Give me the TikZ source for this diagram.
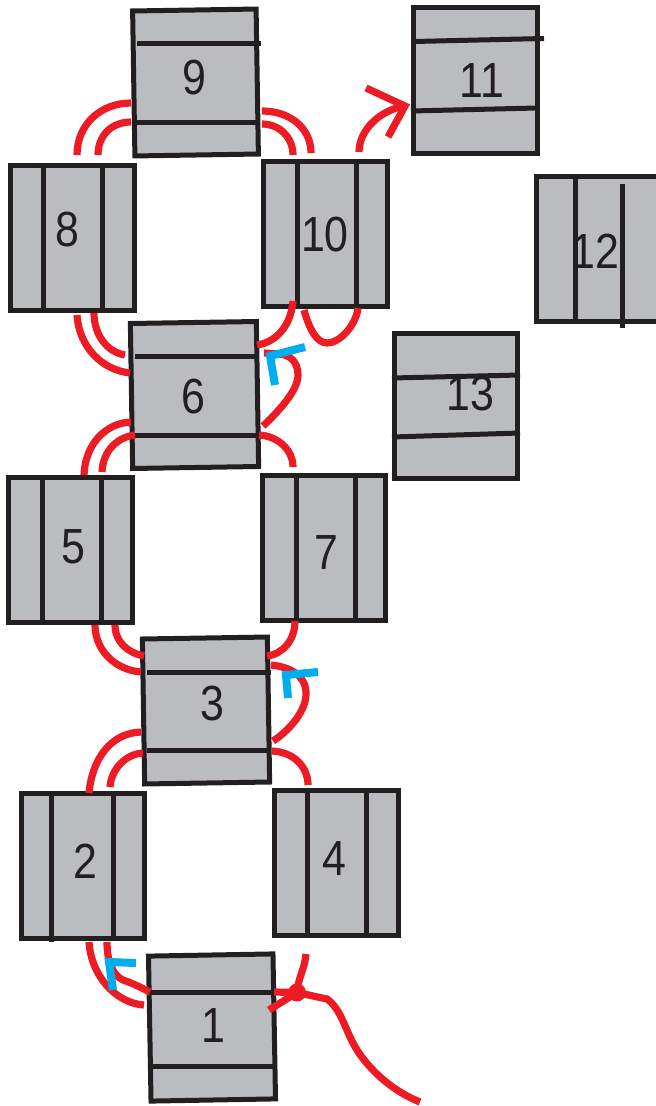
\documentclass[tikz,border=0pt]{standalone}
\usepackage{fontspec}
\setmainfont{Liberation Sans}
\newfontfamily\numfont[FakeStretch=0.87]{Liberation Sans}
\definecolor{boxgrey}{HTML}{BBBCBF}
\definecolor{inkblack}{HTML}{231F20}
\definecolor{wirered}{HTML}{ED1C24}
\definecolor{tagblue}{HTML}{00AEEF}
\tikzset{
  cell/.style={draw=inkblack,fill=boxgrey,line width=3.75pt,inner sep=0pt,outer sep=0pt,minimum width=123.5*0.75pt,minimum height=145*0.75pt,shape=rectangle,line join=miter},
  divider/.style={draw=inkblack,line width=3.75pt},
  num/.style={text=inkblack,font=\numfont\fontsize{37}{37}\selectfont,inner sep=0pt},
  wire/.style={draw=wirered,line width=5.4pt},
  tag/.style={draw=tagblue,line width=6pt,line join=miter}
}
\begin{document}
\begin{tikzpicture}[x=0.75pt,y=-0.75pt]
\clip (0,0) rectangle (656,1106);
% boxes
\node[cell,rotate=0.9] (b9) at (195.5,82.5) {};
\node[cell] (b11) at (475.5,80.5) {};
\node[cell] (b8) at (72.5,237.5) {};
\node[cell] (b10) at (325.5,233.5) {};
\node[cell] (b12) at (597.75,248.5) {};
\node[cell] (b13) at (456,406) {};
\node[cell,rotate=0.9,minimum width=126*0.75pt] (b6) at (194.5,395) {};
\node[cell] (b5) at (70.5,549.5) {};
\node[cell] (b7) at (324,547.5) {};
\node[cell,rotate=0.9,minimum width=125*0.75pt] (b3) at (206,710.5) {};
\node[cell] (b2) at (83,865.5) {};
\node[cell] (b4) at (336.5,863) {};
\node[cell,rotate=1,minimum width=124.5*0.75pt] (b1) at (212,1027.5) {};
% divider end points
\coordinate (d9a) at (137,44); \coordinate (d9b) at (261,44);
\coordinate (d9c) at (137,122.5); \coordinate (d9d) at (259,122.5);
\coordinate (d11a) at (414,41.5); \coordinate (d11b) at (544,38.5);
\coordinate (d11c) at (411,111); \coordinate (d11d) at (537,108);
\coordinate (d8a) at (43.7,165); \coordinate (d8b) at (43.7,310);
\coordinate (d8c) at (102.5,165); \coordinate (d8d) at (102.5,310);
\coordinate (d10a) at (297,161); \coordinate (d10b) at (297,306);
\coordinate (d10c) at (356,161); \coordinate (d10d) at (356,306);
\coordinate (d12a) at (575.5,179); \coordinate (d12b) at (575.5,324);
\coordinate (d12c) at (622,184); \coordinate (d12d) at (622,328);
\coordinate (d13a) at (392,378); \coordinate (d13b) at (520,375);
\coordinate (d13c) at (392,437); \coordinate (d13d) at (520,433);
\coordinate (d6a) at (135,356.5); \coordinate (d6b) at (259,356.5);
\coordinate (d6c) at (135,435.5); \coordinate (d6d) at (257,435.5);
\coordinate (d5a) at (42,477); \coordinate (d5b) at (42,622);
\coordinate (d5c) at (101,477); \coordinate (d5d) at (101,622);
\coordinate (d7a) at (296,475); \coordinate (d7b) at (296,620);
\coordinate (d7c) at (355,475); \coordinate (d7d) at (355,620);
\coordinate (d3a) at (147,672); \coordinate (d3b) at (271,672);
\coordinate (d3c) at (147,750.5); \coordinate (d3d) at (268,750.5);
\coordinate (d2a) at (51,796); \coordinate (d2b) at (51,942);
\coordinate (d2c) at (113,793); \coordinate (d2d) at (113,938);
\coordinate (d4a) at (307,790); \coordinate (d4b) at (307,936);
\coordinate (d4c) at (366,790); \coordinate (d4d) at (366,936);
\coordinate (d1a) at (150,992); \coordinate (d1b) at (275,992);
\coordinate (d1c) at (152,1066); \coordinate (d1d) at (275,1066);
\foreach \p/\q in {d9a/d9b,d9c/d9d,d11a/d11b,d11c/d11d,d8a/d8b,d8c/d8d,d10a/d10b,d10c/d10d,d12a/d12b,d12c/d12d,d13a/d13b,d13c/d13d,d6a/d6b,d6c/d6d,d5a/d5b,d5c/d5d,d7a/d7b,d7c/d7d,d3a/d3b,d3c/d3d,d2a/d2b,d2c/d2d,d4a/d4b,d4c/d4d,d1a/d1b,d1c/d1d}
  \draw[divider] (\p) -- (\q);
% numbers
\node[num] (t9) at (194,78) {9};
\node[num] (t11) at (482,81) {11};
\node[num] (t8) at (67,230) {8};
\node[num] (t10) at (325,235) {10};
\node[num] (t12) at (595,251) {12};
\node[num] (t13) at (470,394) {13};
\node[num] (t6) at (193,397) {6};
\node[num] (t5) at (73,547) {5};
\node[num] (t7) at (326,553) {7};
\node[num] (t3) at (212,704) {3};
\node[num] (t2) at (85,861) {2};
\node[num] (t4) at (334,859) {4};
\node[num] (t1) at (213,1026) {1};
% wire ends
\coordinate (w1) at (77,155); \coordinate (w2) at (131,103);
\coordinate (w3) at (98,155); \coordinate (w4) at (131,122);
\coordinate (w5) at (262,111); \coordinate (w6) at (311,153);
\coordinate (w7) at (262,124); \coordinate (w8) at (293,155);
\coordinate (w9) at (359,152); \coordinate (w10) at (405,106);
\coordinate (h1) at (366,88); \coordinate (h2) at (388,137);
\coordinate (w11) at (77,315); \coordinate (w12) at (130,373);
\coordinate (w13) at (94,313); \coordinate (w14) at (125,355);
\coordinate (w15) at (293,301); \coordinate (w16) at (257,345);
\coordinate (w17) at (304,310); \coordinate (w18) at (358,308);
\coordinate (w19) at (263,426); \coordinate (w20) at (264,353);
\coordinate (w21) at (84,475); \coordinate (w22) at (131,422);
\coordinate (w23) at (102,472); \coordinate (w24) at (135,435);
\coordinate (w25) at (259,435); \coordinate (w26) at (293,467);
\coordinate (w27) at (95,625); \coordinate (w28) at (141,672);
\coordinate (w29) at (115,625); \coordinate (w30) at (144,656);
\coordinate (w31) at (295,621); \coordinate (w32) at (267,656);
\coordinate (w33) at (273,741); \coordinate (w34) at (271,665);
\coordinate (w35) at (89,793); \coordinate (w36) at (141,732);
\coordinate (w37) at (110,787); \coordinate (w38) at (143,753);
\coordinate (w39) at (272,751); \coordinate (w40) at (308,785);
\coordinate (w41) at (89,942); \coordinate (w42) at (144,1005);
\coordinate (w43) at (107,942); \coordinate (w44) at (150,992);
\coordinate (w45) at (306,954); \coordinate (knot) at (297,992.5);
\coordinate (w46) at (274,992); \coordinate (w47) at (269,1010);
\coordinate (w48) at (420,1102);
% wires
\draw[wire] (w1) .. controls (77,125) and (100,103) .. (w2);
\draw[wire] (w3) .. controls (98,135) and (112,122) .. (w4);
\draw[wire] (w5) .. controls (290,111) and (311,128) .. (w6);
\draw[wire] (w7) .. controls (280,124) and (293,138) .. (w8);
\draw[wire] (w9) .. controls (359,130) and (380,110) .. (w10);
\draw[wire,line join=miter] (h1) -- (w10) -- (h2);
\draw[wire] (w11) .. controls (79,347) and (102,370) .. (w12);
\draw[wire] (w13) .. controls (94,335) and (107,352) .. (w14);
\draw[wire] (w15) .. controls (291,325) and (277,342) .. (w16);
\draw[wire] (w17) .. controls (310,332) and (318,343) .. (327,343) .. controls (340,343) and (356,325) .. (w18);
\draw[wire] (w19) .. controls (280,410) and (298,390) .. (298,375) .. controls (298,362) and (290,355) .. (280,354) -- (w20);
\draw[wire] (w21) .. controls (85,445) and (105,423) .. (w22);
\draw[wire] (w23) .. controls (103,450) and (118,437) .. (w24);
\draw[wire] (w25) .. controls (278,436) and (293,450) .. (w26);
\draw[wire] (w27) .. controls (95,650) and (115,670) .. (w28);
\draw[wire] (w29) .. controls (115,642) and (128,653) .. (w30);
\draw[wire] (w31) .. controls (295,640) and (283,654) .. (w32);
\draw[wire] (w33) .. controls (290,730) and (307,710) .. (306,692) .. controls (305,675) and (290,667) .. (w34);
\draw[wire] (w35) .. controls (92,760) and (110,733) .. (w36);
\draw[wire] (w37) .. controls (111,770) and (125,754) .. (w38);
\draw[wire] (w39) .. controls (295,752) and (308,768) .. (w40);
\draw[wire] (w41) .. controls (91,975) and (115,1003) .. (w42);
\draw[wire] (w43) .. controls (107,960) and (112,975) .. (123,980) .. controls (132,983) and (140,987) .. (w44);
\draw[wire] (w45) .. controls (305,968) and (298,978) .. (knot);
\draw[wire] (w46) -- (knot);
\draw[wire] (w47) -- (knot);
\draw[wire] (knot) -- (327,999) .. controls (340,1008) and (345,1028) .. (353,1043) .. controls (365,1066) and (390,1090) .. (w48);
\fill[wirered] (knot) circle (9);
% blue tags
\coordinate (c1) at (305,347); \coordinate (c2) at (270,356); \coordinate (c3) at (275,385);
\coordinate (c4) at (318,672); \coordinate (c5) at (286,675); \coordinate (c6) at (288,698);
\coordinate (c7) at (136,963); \coordinate (c8) at (109,962); \coordinate (c9) at (113,990);
\draw[tag] (c1) -- (c2) -- (c3);
\draw[tag] (c4) -- (c5) -- (c6);
\draw[tag] (c7) -- (c8) -- (c9);
\end{tikzpicture}
\end{document}
